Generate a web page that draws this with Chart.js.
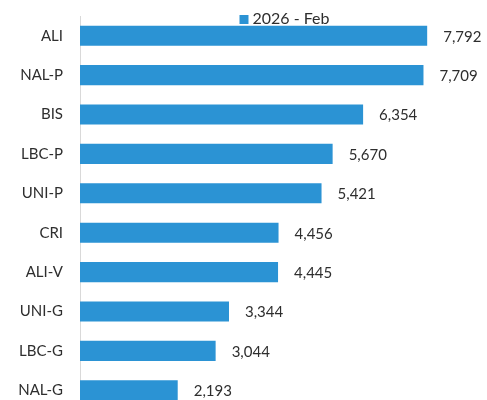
<!DOCTYPE html>
<html>
<head>
<meta charset="utf-8">
<script src="https://cdn.jsdelivr.net/npm/chart.js@4.4.1/dist/chart.umd.min.js"></script>
<style>
  html, body { margin: 0; padding: 0; background: #fff; overflow: hidden; }
  #wrap { position: relative; width: 487px; height: 420px; }
</style>
</head>
<body>
<div id="wrap"><canvas id="chart"></canvas></div>
<script>
const categories = ['ALI', 'NAL-P', 'BIS', 'LBC-P', 'UNI-P', 'CRI', 'ALI-V', 'UNI-G', 'LBC-G', 'NAL-G'];
const febValues = [7792, 7709, 6354, 5670, 5421, 4456, 4445, 3344, 3044, 2193];
const seriesLabel = '2026 - Feb';

const textColor = '#2e2e2e';
const barColor = '#2b93d4';
const fontFamily = 'Lato, "Open Sans", sans-serif';

// value labels drawn at the end of each bar
const valueLabels = {
  id: 'valueLabels',
  afterDatasetsDraw(chart) {
    const ctx = chart.ctx;
    const meta = chart.getDatasetMeta(0);
    ctx.save();
    ctx.font = '15px ' + fontFamily;
    ctx.fillStyle = textColor;
    ctx.textAlign = 'left';
    ctx.textBaseline = 'middle';
    meta.data.forEach((bar, i) => {
      const v = chart.data.datasets[0].data[i];
      ctx.fillText(v.toLocaleString('en-US'), bar.x + 16, bar.y + 1);
    });
    ctx.restore();
  }
};

// legend overlapping the top of the plot, like the original
const topLegend = {
  id: 'topLegend',
  afterDraw(chart) {
    const ctx = chart.ctx;
    const ds = chart.data.datasets[0];
    ctx.save();
    ctx.font = '16px ' + fontFamily;
    const tw = ctx.measureText(ds.label).width;
    const box = 9, gap = 4;
    const total = box + gap + tw;
    const cx = (chart.chartArea.left + chart.chartArea.right) / 2 + 4;
    const x0 = cx - total / 2;
    ctx.fillStyle = ds.backgroundColor;
    ctx.fillRect(x0, 15, box, box);
    ctx.fillStyle = textColor;
    ctx.textBaseline = 'middle';
    ctx.fillText(ds.label, x0 + box + gap, 19);
    ctx.restore();
  }
};

new Chart(document.getElementById('chart'), {
  type: 'bar',
  data: {
    labels: categories,
    datasets: [{
      label: seriesLabel,
      data: febValues,
      backgroundColor: barColor,
      categoryPercentage: 1,
      barPercentage: 0.51
    }]
  },
  options: {
    indexAxis: 'y',
    responsive: true,
    maintainAspectRatio: false,
    animation: false,
    layout: { padding: { top: 16, right: 6, bottom: 10, left: 0 } },
    plugins: {
      legend: { display: false },
      tooltip: { enabled: false }
    },
    scales: {
      x: {
        display: false,
        min: 0,
        max: 9000
      },
      y: {
        afterFit(scale) { scale.width = 80; },
        grid: { display: false, drawTicks: true, tickLength: 17 },
        border: { display: true, color: '#d9d9d9', width: 1 },
        ticks: {
          padding: 0,
          color: textColor,
          font: { family: fontFamily, size: 15 }
        }
      }
    }
  },
  plugins: [valueLabels, topLegend]
});
</script>
</body>
</html>
